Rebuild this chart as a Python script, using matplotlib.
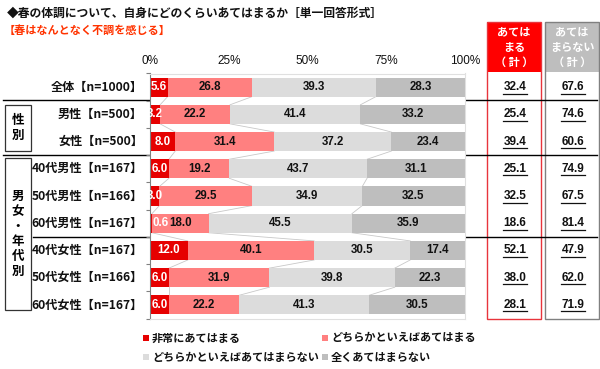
import numpy as np
import matplotlib.pyplot as plt
from matplotlib.patches import Rectangle

plt.rcParams['font.family'] = ['Noto Sans CJK JP', 'DejaVu Sans']

kategorie = ['全体【n=1000】', '男性【n=500】', '女性【n=500】',
             '40代男性【n=167】', '50代男性【n=166】', '60代男性【n=167】',
             '40代女性【n=167】', '50代女性【n=166】', '60代女性【n=167】']
s1 = [5.6, 3.2, 8.0, 6.0, 3.0, 0.6, 12.0, 6.0, 6.0]
s2 = [26.8, 22.2, 31.4, 19.2, 29.5, 18.0, 40.1, 31.9, 22.2]
s3 = [39.3, 41.4, 37.2, 43.7, 34.9, 45.5, 30.5, 39.8, 41.3]
s4 = [28.3, 33.2, 23.4, 31.1, 32.5, 35.9, 17.4, 22.3, 30.5]
atehamaru = [32.4, 25.4, 39.4, 25.1, 32.5, 18.6, 52.1, 38.0, 28.1]
atehamaranai = [67.6, 74.6, 60.6, 74.9, 67.5, 81.4, 47.9, 62.0, 71.9]
serie_nazwy = ['非常にあてはまる', 'どちらかといえばあてはまる',
               'どちらかといえばあてはまらない', '全くあてはまらない']
kolory = ['#E60000', '#FF8080', '#DCDCDC', '#BEBEBE']
ticki = [0, 25, 50, 75, 100]

W, H = 600, 369
fig = plt.figure(figsize=(6, 3.69), dpi=100)

# nakladka w pikselach: ramki, teksty, legenda
ov = fig.add_axes([0, 0, 1, 1])
ov.set_xlim(0, W)
ov.set_ylim(H, 0)
ov.axis('off')

# glowny wykres slupkowy
x0, x1 = 150, 465
y0, y1 = 73.5, 318.5
ax = fig.add_axes([x0 / W, 1 - y1 / H, (x1 - x0) / W, (y1 - y0) / H])
ax.set_xlim(0, 100)
ax.set_ylim(len(kategorie) - 0.5, -0.5)
ax.set_facecolor('white')

dane = np.array([s1, s2, s3, s4])
n = len(kategorie)
y = np.arange(n)
h = 0.7
lewe = np.zeros(n)
for k in range(4):
    ax.barh(y, dane[k], left=lewe, height=h, color=kolory[k], zorder=2)
    for i in range(n):
        v = dane[k][i]
        xc = lewe[i] + v / 2
        ha = 'center'
        if v < 2:
            # maly segment - etykieta od lewej krawedzi
            xc = lewe[i] + 0.9
            ha = 'left'
        ax.text(xc, y[i], f'{v:.1f}', ha=ha, va='center',
                fontsize=8.3, fontweight='bold', family='Liberation Sans',
                color='white' if k == 0 else '#111111', zorder=4)
    lewe = lewe + dane[k]

# linie laczace slupki
cum = np.cumsum(dane, axis=0)
for i in range(n - 1):
    for k in range(3):
        ax.plot([cum[k][i], cum[k][i + 1]], [y[i] + h / 2, y[i + 1] - h / 2],
                color='#C8C8C8', lw=0.6, zorder=1)

ax.set_yticks(np.arange(-0.5, n, 1))
ax.set_yticklabels([])
ax.tick_params(axis='y', length=3, color='#808080', width=0.8)
ax.set_xticks([])
for s in ['top', 'right', 'bottom']:
    ax.spines[s].set_color('#E0E0E0')
    ax.spines[s].set_linewidth(0.8)
ax.spines['left'].set_color('#808080')
ax.spines['left'].set_linewidth(0.8)

for t in ticki:
    ov.text(x0 + (x1 - x0) * t / 100, 61, f'{t}%', ha='center', va='center',
            fontsize=8.5, family='Liberation Sans', color='#111111')

# tytul
ov.text(7, 13, '◆春の体調について、自身にどのくらいあてはまるか［単一回答形式］',
        ha='left', va='center', fontsize=8.5, fontweight='bold', color='#111111')
ov.text(4, 30, '【春はなんとなく不調を感じる】', ha='left', va='center',
        fontsize=8, fontweight='bold', color='#FF3300')

row_px = y0 + (y1 - y0) * (y + 0.5) / n

# etykiety kategorii
for i in range(n):
    ov.text(143, row_px[i], kategorie[i], ha='right', va='center',
            fontsize=8.7, fontweight='bold', color='#111111')

# linie oddzielajace
ov.plot([3, 597], [99.5, 99.5], color='black', lw=1)
ov.plot([3, 597], [154.5, 154.5], color='black', lw=1)
ov.plot([33, 597], [236.5, 236.5], color='black', lw=1)

# ramki grup
ov.add_patch(Rectangle((5, 105), 26, 46, fill=False, ec='#333333', lw=0.9))
ov.text(18, 128, '性\n別', ha='center', va='center', fontsize=9,
        fontweight='bold', linespacing=1.2)
ov.add_patch(Rectangle((5, 158), 26, 152, fill=False, ec='#333333', lw=0.9))
ov.text(18, 234, '男\n女\n・\n年\n代\n別', ha='center', va='center',
        fontsize=9, fontweight='bold', linespacing=1.2)

# kolumny podsumowania
ov.add_patch(Rectangle((487, 22), 54, 50, color='#FF0000', lw=0))
ov.add_patch(Rectangle((487, 22), 54, 297, fill=False, ec='#E8343C', lw=1))
ov.add_patch(Rectangle((545, 22), 54, 50, color='#BEBEBE', lw=0))
ov.add_patch(Rectangle((545, 22), 54, 297, fill=False, ec='#808080', lw=1))
ov.text(514, 47, 'あては\nまる\n（ 計 ）', ha='center', va='center', fontsize=8,
        fontweight='bold', color='white', linespacing=1.2)
ov.text(572, 47, 'あては\nまらない\n（ 計 ）', ha='center', va='center', fontsize=8,
        fontweight='bold', color='white', linespacing=1.2)

for i in range(n):
    for xc, val in [(515, atehamaru[i]), (573, atehamaranai[i])]:
        ov.text(xc, row_px[i], f'{val:.1f}', ha='center', va='center',
                fontsize=8.5, fontweight='bold', family='Liberation Sans',
                color='#111111')
        ov.plot([xc - 12, xc + 12], [row_px[i] + 6.5] * 2, color='#111111',
                lw=0.9)

# legenda
leg_pos = [(146, 338), (325, 338), (146, 357), (325, 357)]
for k in range(4):
    lx, ly = leg_pos[k]
    ov.add_patch(Rectangle((lx - 3, ly - 3), 6, 6, color=kolory[k], lw=0))
    ov.text(lx + 6, ly, serie_nazwy[k], ha='left', va='center', fontsize=8,
            fontweight='bold', color='#111111')

fig.savefig('out.png', dpi=100)
